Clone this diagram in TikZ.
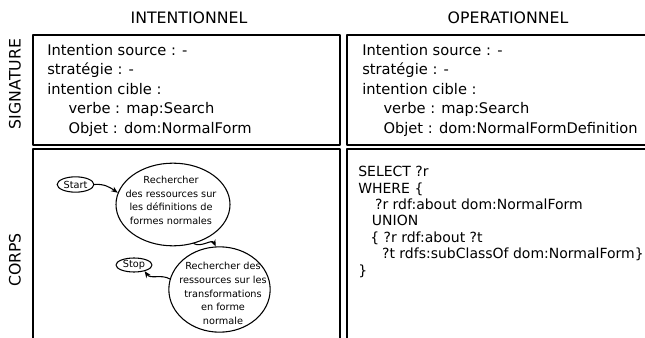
\documentclass[tikz,border=0pt]{standalone}
\usepackage{fontspec}
\setmainfont{DejaVu Sans}
\usetikzlibrary{arrows.meta,shapes.geometric}

\tikzset{
	cadre/.style={line width=1.5pt},
	titre/.style={font=\fontsize{11.8}{13}\selectfont},
	champ/.style={anchor=north west,align=left,inner sep=0pt,font=\fontsize{11}{14.6}\selectfont},
	requete/.style={anchor=north west,align=left,inner sep=0pt,font=\fontsize{10.5}{12.3}\selectfont},
	etat/.style={draw,ellipse,line width=0.8pt,inner sep=0pt},
	legende/.style={align=center,inner sep=0pt,font=\fontsize{7.3}{10.3}\selectfont},
	fleche/.style={-{Stealth[length=5pt,width=4pt]},line width=0.8pt}
}

\begin{document}
\begin{tikzpicture}[line cap=round,line join=round,x=0.75pt,y=-0.75pt]
		\useasboundingbox (0,0) rectangle (645,338);
		\begin{scope}
			\clip (0,0) rectangle (645,338);
			% les quatre cadres
			\draw [cadre] (33,35) rectangle (339.5,145);
			\draw [cadre] (347,35) rectangle (660,145);
			\draw [cadre] (33,149) rectangle (339.5,350);
			\draw [cadre] (347,149) rectangle (660,350);
		\end{scope}
		% titres
		\node [titre] (intent) at (189,18) {INTENTIONNEL};
		\node [titre] (operat) at (508,18) {OPERATIONNEL};
		\node [titre,rotate=90] (signat) at (15,84) {SIGNATURE};
		\node [titre,rotate=90] (corps) at (15,260) {CORPS};
		% signatures
		\node [champ] (sigint) at (47,44) {Intention source : -\\stratégie : -\\intention cible :\\
			\hspace{1.45em}verbe : map:Search\\\hspace{1.45em}Objet : dom:NormalForm};
		\node [champ] (sigope) at (362,44) {Intention source : -\\stratégie : -\\intention cible :\\
			\hspace{1.45em}verbe : map:Search\\\hspace{1.45em}Objet : dom:NormalFormDefinition};
		% carte intentionnelle
		\node [etat,minimum width=27.5pt,minimum height=11.5pt] (start) at (75.5,184.5) {};
		\node [legende] (startt) at (start) {Start};
		\node [etat,minimum width=85.5pt,minimum height=62pt] (rech1) at (173,204.5) {};
		\node [legende] (rech1t) at (171,200.5) {Rechercher\\des ressources sur\\les définitions de\\formes normales};
		\node [etat,minimum width=27pt,minimum height=10.5pt] (stop) at (134,265) {};
		\node [legende] (stopt) at (stop) {Stop};
		\node [etat,minimum width=76pt,minimum height=64pt] (rech2) at (219.5,289.5) {};
		\node [legende] (rech2t) at (223,293.5) {Rechercher des\\ressources sur les\\transformations\\en forme\\normale};
		\draw [fleche] (start.east) to[out=5,in=145] (rech1.180-12);
		\draw [fleche] (rech1.-62) to[out=-30,in=115] (rech2.95);
		\draw [fleche] (rech2.168) to[out=150,in=-55] (stop.-30);
		% requete
		\node [requete] (sparql) at (358,166) {SELECT ?r\\WHERE \{\\\hspace{1.2em}?r rdf:about dom:NormalForm\\
			\hspace{0.98em}UNION\\\hspace{0.86em}\{ ?r rdf:about ?t\\\hspace{1.7em}?t rdfs:subClassOf dom:NormalForm\}\\\}};
	\end{tikzpicture}
\end{document}
